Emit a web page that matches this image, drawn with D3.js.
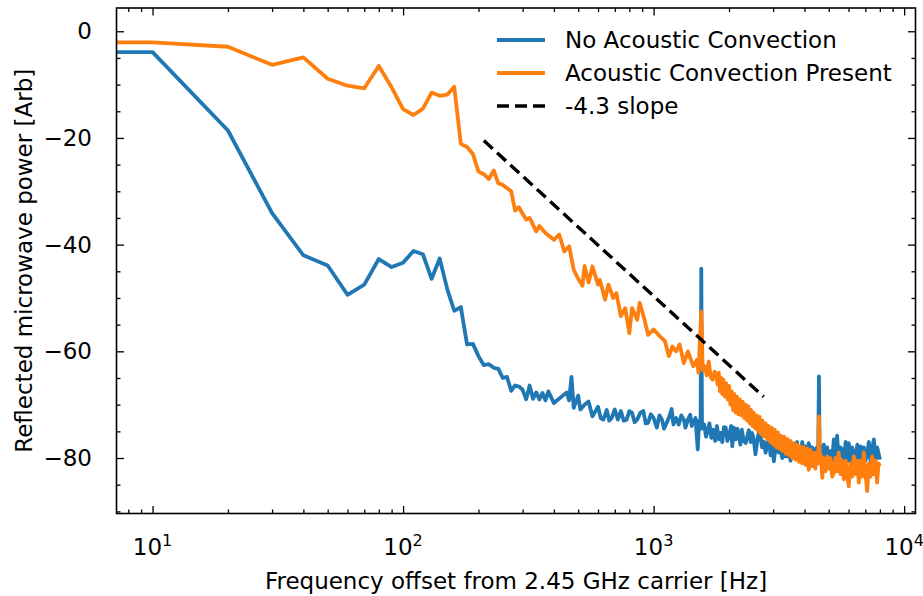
<!DOCTYPE html>
<html><head><meta charset="utf-8">
<script src="https://cdn.jsdelivr.net/npm/d3@7"></script>
<style>body{margin:0;background:#fff} text{font-family:"DejaVu Sans",sans-serif;fill:#000}</style>
</head><body><svg id="c" width="923" height="596"></svg>
<script>
// ---------- data ----------
const blueFreq = [10,20,30,40,50,60,70,80,90,100,110,120,130,140,150,160,170,180,190,200,210,220,230,240,250,260,270,280,290,300,310,320,330,340,350,360,370,380,400,450,460,470,480,500,510,530,550,570,600,615,630,650,665,680,700,720,740,760,780,800,820,840,860,885,910,930,950,975,1000,1030,1055,1080,1100,1120,1150,1180,1200,1230,1260,1290,1320,1340,1370,1400,1420,1440,1470,1500,1520,1540,1550,1560,1590,1620,1640,1670,1700,1730,1760,1790,1820,1850,1880,1910,1940,1970,2000,2040,2060,2090,2130,2160,2190,2220,2250,2290,2330,2360,2400,2440,2470,2510,2550,2590,2630,2670,2710,2750,2800,2830,2880,2930,2970,3020,3070,3110,3160,3210,3260,3310,3360,3410,3460,3520,3580,3630,3680,3740,3800,3860,3920,3980,4040,4100,4160,4230,4290,4360,4420,4490,4540,4570,4600,4680,4780,4850,4930,5010,5080,5160,5240,5320,5400,5480,5570,5660,5750,5840,5920,6010,6100,6200,6300,6400,6500,6600,6700,6800,6900,7010,7120,7230,7340,7450,7570,7680,7800,7920,8000];
const blueVal = [-3.9,-18.6,-34.1,-42.0,-43.9,-49.4,-47.5,-42.7,-44.2,-43.4,-41.2,-41.8,-46.4,-42.6,-48.3,-52.4,-51.7,-58.7,-58.6,-60.9,-62.6,-62.4,-63.1,-63.3,-65.0,-64.8,-67.4,-66.4,-66.6,-67.2,-69.0,-66.4,-68.9,-67.7,-69.0,-67.8,-69.2,-67.5,-69.7,-67.7,-69.2,-64.8,-70.6,-68.3,-70.9,-70.0,-69.4,-72.2,-70.4,-72.5,-72.8,-71.0,-73.0,-72.5,-70.9,-72.8,-71.2,-73.0,-72.8,-71.2,-71.5,-73.3,-72.8,-71.5,-71.2,-73.5,-73.4,-71.8,-72.5,-74.3,-72.0,-72.8,-74.5,-73.7,-72.5,-70.8,-73.7,-72.5,-73.7,-72.0,-72.8,-74.3,-72.8,-71.9,-74.0,-73.4,-72.5,-78.4,-73.0,-74.0,-44.5,-74.5,-73.7,-76.0,-75.0,-73.5,-76.2,-74.7,-76.8,-74.0,-76.5,-75.3,-77.0,-74.2,-74.3,-76.8,-75.9,-74.0,-77.8,-74.3,-76.5,-74.5,-75.9,-77.5,-74.7,-76.8,-77.2,-76.2,-74.8,-77.0,-75.3,-76.5,-79.3,-76.9,-75.2,-75.9,-78.0,-76.9,-79.0,-77.8,-76.2,-79.5,-77.0,-80.6,-77.8,-76.5,-79.0,-77.5,-80.0,-77.2,-79.7,-79.7,-77.0,-80.5,-78.0,-77.5,-79.5,-77.0,-80.0,-79.3,-77.0,-80.2,-77.8,-80.5,-77.2,-79.0,-78.0,-78.4,-80.5,-78.0,-79.0,-64.7,-78.5,-79.5,-77.5,-80.5,-78.0,-81.0,-78.7,-80.5,-76.5,-80.0,-75.8,-80.5,-78.0,-78.4,-81.0,-77.0,-80.5,-77.2,-80.8,-78.0,-79.0,-81.0,-77.5,-80.5,-77.8,-81.0,-78.0,-80.5,-79.3,-77.0,-80.5,-78.5,-76.5,-80.5,-78.0,-79.3,-80.3];

const orangeFreq = [10,20,30,40,50,60,70,80,90,100,110,120,130,140,150,160,170,180,190,200,210,220,230,240,250,270,280,290,300,310,320,340,350,370,400,420,440,460,480,500,520,530,550,570,600,610,640,660,690,710,740,770,800,820,860,880,920,950,1000,1060,1110,1150,1190,1230,1270,1320,1370,1440,1490,1510,1550,1570,1600,1630,1660,1690,1720,1750,1780,1800,1820,1840,1860,1880,1900,1925,1950,1975,2000,2025,2050,2075,2100,2125,2150,2180,2210,2240,2270,2300,2330,2360,2390,2420,2450,2480,2510,2545,2580,2615,2650,2685,2720,2760,2800,2840,2880,2920,2960,3000,3045,3090,3135,3180,3225,3270,3320,3370,3420,3470,3520,3575,3630,3685,3740,3800,3860,3920,3980,4040,4100,4160,4220,4290,4360,4420,4490,4540,4570,4610,4660,4710,4780,4850,4930,5010,5080,5160,5240,5320,5400,5480,5570,5660,5750,5840,5920,6010,6100,6200,6300,6400,6500,6590,6700,6800,6900,7010,7120,7230,7340,7450,7570,7680,7800,7900,8000];
const orangeVal = [-2.1,-2.9,-6.3,-4.9,-8.9,-10.2,-10.7,-6.5,-10.5,-14.6,-15.7,-14.5,-11.5,-12.1,-11.9,-10.4,-21.1,-21.7,-23.0,-26.3,-26.8,-27.7,-26.1,-28.5,-28.8,-30.0,-33.6,-33.0,-34.2,-35.3,-35.0,-37.5,-36.5,-37.8,-39.1,-38.1,-41.3,-40.3,-44.7,-46.4,-47.7,-44.0,-47.1,-44.1,-47.5,-46.6,-50.3,-47.5,-50.0,-49.1,-53.4,-51.9,-56.6,-51.9,-54.1,-50.9,-54.1,-56.9,-55.9,-57.2,-58.1,-60.9,-59.1,-60.0,-58.7,-62.2,-60.0,-62.8,-61.6,-64.0,-52.5,-63.5,-62.8,-64.5,-61.9,-64.8,-65.3,-63.8,-64.5,-66.2,-64.0,-67.5,-65.0,-68.0,-65.3,-68.5,-66.0,-69.0,-66.5,-70.0,-67.5,-71.0,-68.0,-71.5,-68.5,-71.8,-69.0,-72.0,-69.5,-72.5,-70.0,-73.0,-70.3,-73.5,-71.0,-74.0,-71.5,-74.5,-72.0,-75.0,-72.3,-75.5,-73.0,-76.0,-73.5,-76.5,-74.0,-77.0,-74.3,-77.5,-74.7,-78.0,-75.2,-78.3,-75.8,-78.7,-76.0,-79.2,-76.4,-79.5,-76.8,-80.0,-77.2,-80.3,-77.5,-80.7,-77.8,-81.0,-78.0,-81.3,-78.2,-82.2,-78.5,-81.5,-79.0,-82.0,-79.0,-81.0,-72.2,-81.0,-79.5,-83.7,-80.0,-82.5,-79.7,-82.0,-80.0,-83.5,-82.8,-80.0,-82.5,-79.0,-83.0,-80.5,-84.0,-80.5,-83.0,-85.3,-81.0,-83.5,-79.7,-83.0,-80.5,-84.6,-80.5,-83.5,-79.0,-83.0,-86.2,-81.0,-83.5,-79.7,-83.0,-80.5,-84.6,-81.0,-81.5];

const slopeFreq = [210, 2750];
const slopeStart = -20.5;      // dB at first point
const slopeExponent = -4.3;     // power-law exponent (x10 dB per decade)

const seriesNames = ["No Acoustic Convection", "Acoustic Convection Present", "-4.3 slope"];
const seriesColors = ["#1f77b4", "#ff7f0e", "#000000"];

const xTickValues = [10, 100, 1000, 10000];
const xTickExp = ["1", "2", "3", "4"];
const yTickValues = [0, -20, -40, -60, -80];
const xLabel = "Frequency offset from 2.45 GHz carrier [Hz]";
const yLabel = "Reflected microwave power [Arb]";

// ---------- layout ----------
const svg = d3.select("#c");
const L = 116.5, R = 915.5, T = 8, B = 513.5;
const x = d3.scaleLog().domain([7.18, 11100]).range([L, R]);
const y = d3.scaleLinear().domain([-90.4, 4.36]).range([B, T]);
const FS = 23;
const LW = 3.8;

svg.append("defs").append("clipPath").attr("id","clip")
  .append("rect").attr("x",L).attr("y",T).attr("width",R-L).attr("height",B-T);

const plot = svg.append("g").attr("clip-path","url(#clip)");
const line = d3.line().x(d=>x(d[0])).y(d=>y(d[1]));

function series(freq, val){
  const pts = freq.map((f,i)=>[f,val[i]]);
  // matplotlib draws the 0 Hz point off to the left: horizontal at first value
  pts.unshift([x.domain()[0], val[0]]);
  return pts;
}
plot.append("path").attr("d", line(series(blueFreq, blueVal)))
  .attr("fill","none").attr("stroke",seriesColors[0]).attr("stroke-width",LW)
  .attr("stroke-linejoin","round");
plot.append("path").attr("d", line(series(orangeFreq, orangeVal)))
  .attr("fill","none").attr("stroke",seriesColors[1]).attr("stroke-width",LW)
  .attr("stroke-linejoin","round");
const slopePts = slopeFreq.map(f=>[f, slopeStart + 10*slopeExponent*Math.log10(f/slopeFreq[0])]);
plot.append("path").attr("d", line(slopePts))
  .attr("fill","none").attr("stroke",seriesColors[2]).attr("stroke-width",3.4)
  .attr("stroke-dasharray","12,6");

// ---------- axes (ticks inward on all four sides) ----------
const xMinor = [];
for (let e=0;e<5;e++) for (let k=2;k<10;k++){ const v=k*Math.pow(10,e); if(v>x.domain()[0]&&v<x.domain()[1]) xMinor.push(v); }
const yMinor = d3.range(-90, 5, 5).filter(v=>!yTickValues.includes(v) && v>=y.domain()[0] && v<=y.domain()[1]);

function ax(gen, tr, vals, size){
  svg.append("g").attr("transform",tr)
    .call(gen.tickValues(vals).tickSize(size).tickFormat(""))
    .call(g=>{g.select(".domain").remove(); g.selectAll("line").attr("stroke","#000").attr("stroke-width",1.3);});
}
ax(d3.axisBottom(x), `translate(0,${B})`, xTickValues.filter(v=>v<x.domain()[1]), -7.5);
ax(d3.axisBottom(x), `translate(0,${B})`, xMinor, -4);
ax(d3.axisTop(x), `translate(0,${T})`, xTickValues.filter(v=>v<x.domain()[1]), -7.5);
ax(d3.axisTop(x), `translate(0,${T})`, xMinor, -4);
ax(d3.axisLeft(y), `translate(${L},0)`, yTickValues, -7.5);
ax(d3.axisLeft(y), `translate(${L},0)`, yMinor, -4);
ax(d3.axisRight(y), `translate(${R},0)`, yTickValues, -7.5);
ax(d3.axisRight(y), `translate(${R},0)`, yMinor, -4);

svg.append("rect").attr("x",L).attr("y",T).attr("width",R-L).attr("height",B-T)
  .attr("fill","none").attr("stroke","#000").attr("stroke-width",1.6);

// tick labels
xTickValues.forEach((v,i)=>{
  const t = svg.append("text").attr("x",x(v)).attr("y",555).attr("text-anchor","middle").attr("font-size",FS);
  t.append("tspan").text("10");
  t.append("tspan").attr("dy",-9.5).attr("font-size",FS*0.7).text(xTickExp[i]);
});
yTickValues.forEach(v=>{
  svg.append("text").attr("x",92).attr("y",y(v)+8).attr("text-anchor","end").attr("font-size",FS)
    .text(v<0 ? "\u2212"+Math.abs(v) : String(v));
});

// axis labels
svg.append("text").attr("x",(L+R)/2).attr("y",589).attr("text-anchor","middle").attr("font-size",FS).text(xLabel);
svg.append("text").attr("transform",`translate(32,${(T+B)/2}) rotate(-90)`).attr("text-anchor","middle").attr("font-size",FS).text(yLabel);

// legend
const lg = svg.append("g");
seriesNames.forEach((n,i)=>{
  const yy = 40 + i*33;
  lg.append("line").attr("x1",497).attr("x2",545).attr("y1",yy).attr("y2",yy)
    .attr("stroke",seriesColors[i]).attr("stroke-width", i<2?LW:3.4)
    .attr("stroke-dasharray", i==2?"12,6":null);
  lg.append("text").attr("x",565).attr("y",yy+8).attr("font-size",FS).text(n);
});
</script></body></html>
